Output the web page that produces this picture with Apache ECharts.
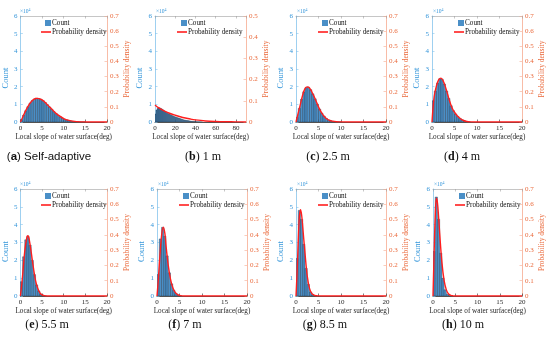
<!DOCTYPE html>
<html>
<head>
<meta charset="utf-8">
<script src="https://cdn.jsdelivr.net/npm/echarts@6/dist/echarts.min.js"></script>
<style>html,body{margin:0;padding:0;background:#fff;}#c{width:550px;height:342px;}</style>
</head>
<body>
<div id="c"></div>
<script>
// ---------- data (counts in units of 10^4, bins start at 0) ----------
const captions = ['a','b','c','d','e','f','g','h'];
const captionText = ['Self-adaptive','1 m','2.5 m','4 m','5.5 m','7 m','8.5 m','10 m'];
const xTickMax = [20, 90, 20, 20, 20, 20, 20, 20];
const xTickStep = [5, 20, 5, 5, 5, 5, 5, 5];
const densityAxisMax = [0.7, 0.5, 0.7, 0.7, 0.7, 0.7, 0.7, 0.7];
const countAxisMax = 6;

const binWidthA = 0.5;
const countsA = [0.13,0.39,0.64,0.87,1.07,1.22,1.30,1.34,1.33,1.29,1.21,1.10,0.98,0.85,0.72,0.59,0.48,0.38,0.29,0.22,0.16,0.12,0.085,0.06,0.04,0.026,0.017,0.011,0.007,0.004];
const densXA = [0,0.5,1,1.5,2,2.5,3,3.5,4,4.5,5,5.5,6,7,8,9,10,11,12,13,14,15,16,18,20];
const densYA = [0,0.03,0.062,0.09,0.115,0.134,0.148,0.155,0.156,0.153,0.146,0.135,0.121,0.092,0.063,0.04,0.023,0.012,0.006,0.0025,0.001,0.0004,0,0,0];

const binWidthB = 1;
const countsB = [0.45,0.68,0.76,0.8,0.8,0.78,0.75,0.71,0.67,0.62,0.58,0.54,0.5,0.47,0.44,0.41,0.38,0.35,0.33,0.3,0.28,0.26,0.24,0.22,0.2,0.18,0.16,0.14,0.12,0.11,0.1,0.09,0.08,0.07,0.06,0.05,0.04,0.035,0.03,0.025,0.02,0.015,0.012,0.01,0.008,0.006,0.005];
const densXB = [0,2,5,10,15,20,25,30,35,40,50,60,70,80,90];
const densYB = [0.08,0.072,0.063,0.05,0.04,0.032,0.025,0.019,0.014,0.01,0.005,0.0025,0.0012,0.0006,0.0003];

const binWidthC = 0.5;
const countsC = [0.26,0.77,1.29,1.71,1.95,1.97,1.83,1.59,1.31,1.01,0.73,0.5,0.33,0.2,0.12,0.07,0.04,0.025,0.013,0.008];
const densXC = [0,0.5,1,1.5,2,2.5,3,3.5,4,4.5,5,5.5,6,6.5,7,7.5,8,9,10,12,15,20];
const densYC = [0,0.06,0.12,0.18,0.22,0.232,0.225,0.2,0.17,0.135,0.1,0.07,0.047,0.03,0.018,0.01,0.006,0.002,0.0005,0,0,0];

const binWidthD = 0.5;
const countsD = [1.2,1.75,2.2,2.45,2.42,2.15,1.75,1.33,0.92,0.64,0.45,0.31,0.2,0.12,0.064,0.03,0.015];
const densXD = [0,0.25,0.5,1,1.5,2,2.5,3,3.5,4,4.5,5,5.5,6,6.5,7,7.5,8,8.5,10,15,20];
const densYD = [0,0.1,0.17,0.24,0.28,0.29,0.27,0.23,0.18,0.13,0.09,0.065,0.045,0.03,0.018,0.01,0.005,0.002,0.001,0,0,0];

const binWidthE = 0.5;
const countsE = [0.8,2.2,3.15,3.35,2.85,2.0,1.2,0.62,0.28,0.11,0.04,0.012];
const densXE = [0,0.25,0.5,1,1.5,1.75,2,2.5,3,3.5,4,4.5,5,5.5,6,8,10,15,20];
const densYE = [0,0.06,0.13,0.29,0.385,0.395,0.375,0.285,0.185,0.1,0.05,0.02,0.007,0.002,0,0,0,0,0];

const binWidthF = 0.5;
const countsF = [1.2,3.2,3.85,3.35,2.25,1.3,0.68,0.32,0.14,0.05,0.015];
const densXF = [0,0.25,0.5,1,1.4,1.75,2,2.5,3,3.5,4,4.5,5,5.5,6,8,10,15,20];
const densYF = [0,0.09,0.2,0.39,0.45,0.41,0.33,0.2,0.11,0.055,0.025,0.01,0.004,0.001,0,0,0,0,0];

const binWidthG = 0.5;
const countsG = [2.1,4.8,4.3,2.9,1.55,0.65,0.22,0.07,0.02];
const densXG = [0,0.25,0.5,0.75,1,1.25,1.5,2,2.5,3,3.5,4,4.5,5,6,8,10,15,20];
const densYG = [0,0.16,0.36,0.52,0.565,0.53,0.45,0.28,0.13,0.05,0.017,0.005,0.0015,0.0005,0,0,0,0,0];

const binWidthH = 0.5;
const countsH = [2.5,5.55,4.3,2.4,1.0,0.35,0.1,0.03];
const densXH = [0,0.25,0.5,0.75,1,1.25,1.5,2,2.5,3,3.5,4,4.5,5,6,8,10,15,20];
const densYH = [0,0.28,0.52,0.64,0.61,0.52,0.41,0.22,0.1,0.04,0.013,0.004,0.001,0,0,0,0,0,0];

const allCounts = [countsA,countsB,countsC,countsD,countsE,countsF,countsG,countsH];
const allBinWidths = [binWidthA,binWidthB,binWidthC,binWidthD,binWidthE,binWidthF,binWidthG,binWidthH];
const allDensX = [densXA,densXB,densXC,densXD,densXE,densXF,densXG,densXH];
const allDensY = [densYA,densYB,densYC,densYD,densYE,densYF,densYG,densYH];

// ---------- layout ----------
const grids = [
  {left:19, top:16, width:88, height:106},
  {left:155, top:16, width:91, height:106},
  {left:296, top:16, width:90, height:106},
  {left:432, top:16, width:90, height:106},
  {left:19, top:189, width:88, height:107},
  {left:157, top:189, width:90, height:107},
  {left:296, top:189, width:90, height:107},
  {left:433, top:189, width:89, height:107}
];
const captionPos = [[49,157],[203,157],[328,157],[462,157],[47,325],[185,325],[325,325],[463,325]];

const SERIF = 'Liberation Serif';
const BLUE_LINE = '#86c4ec', BLUE_TXT = '#3596da';
const RED_LINE = '#f6ab90', RED_TXT = '#ea6a3c';
const BAR_FILL = '#4a8fc7', BAR_EDGE = '#1b2a3a';
const CURVE = '#ff1e1e';

const option = {
  animation: false,
  backgroundColor: '#fff',
  grid: grids.map(g => Object.assign({containLabel:false}, g)),
  xAxis: [], yAxis: [], series: [], legend: [], graphic: []
};

grids.forEach((g, i) => {
  option.xAxis.push({
    gridIndex:i, type:'value', min:0, max:xTickMax[i], interval:xTickStep[i], position:'bottom',
    axisLine:{show:true, onZero:false, lineStyle:{color:'#262626', width:0.8}},
    axisTick:{show:true, inside:true, length:2.5, lineStyle:{color:'#262626', width:0.6}},
    axisLabel:{fontSize:7, color:'#262626', margin:3, fontFamily:SERIF, showMaxLabel: xTickMax[i] % (xTickStep[i]*2) === 0 || xTickMax[i] === 20},
    splitLine:{show:false},
    name:'Local slope of water surface(deg)', nameLocation:'middle', nameGap:12,
    nameTextStyle:{fontSize:7.2, color:'#262626', fontFamily:SERIF}
  });
  option.xAxis.push({
    gridIndex:i, type:'value', min:0, max:xTickMax[i], interval:xTickStep[i], position:'top',
    axisLine:{show:true, onZero:false, lineStyle:{color:'#a0a0a0', width:0.6}},
    axisTick:{show:true, inside:true, length:2.5, lineStyle:{color:'#a0a0a0', width:0.6}},
    axisLabel:{show:false}, splitLine:{show:false}
  });
  option.yAxis.push({
    gridIndex:i, type:'value', min:0, max:countAxisMax, interval:1, position:'left',
    axisLine:{show:true, onZero:false, lineStyle:{color:BLUE_LINE, width:0.8}},
    axisTick:{show:true, inside:true, length:2.5, lineStyle:{color:BLUE_LINE, width:0.6}},
    axisLabel:{fontSize:7, color:BLUE_TXT, margin:3, fontFamily:SERIF},
    splitLine:{show:false},
    name:'Count', nameLocation:'middle', nameGap:7,
    nameTextStyle:{fontSize:8.5, color:BLUE_TXT, fontFamily:SERIF, padding:[0,18,0,0]}
  });
  option.yAxis.push({
    gridIndex:i, type:'value', min:0, max:densityAxisMax[i], interval:0.1, position:'right',
    axisLine:{show:true, onZero:false, lineStyle:{color:RED_LINE, width:0.8}},
    axisTick:{show:true, inside:true, length:2.5, lineStyle:{color:RED_LINE, width:0.6}},
    axisLabel:{fontSize:7, color:RED_TXT, margin:3, fontFamily:SERIF},
    splitLine:{show:false},
    name:'Probability density', nameLocation:'middle', nameGap:14,
    nameTextStyle:{fontSize:7.5, color:RED_TXT, fontFamily:SERIF}
  });

  const bw = allBinWidths[i];
  const bars = allCounts[i].map((c, k) => [k*bw, (k+1)*bw, c]);
  option.series.push({
    type:'custom', name:'Count', xAxisIndex:2*i, yAxisIndex:2*i, clip:true,
    itemStyle:{color:BAR_FILL},
    encode:{x:[0,1], y:2},
    data: bars,
    renderItem: function(params, api){
      const p0 = api.coord([api.value(0), api.value(2)]);
      const p1 = api.coord([api.value(1), 0]);
      return {type:'rect', shape:{x:p0[0], y:p0[1], width:p1[0]-p0[0], height:p1[1]-p0[1]},
        style:{fill:BAR_FILL, stroke:BAR_EDGE, lineWidth:0.35}};
    }
  });
  option.series.push({
    type:'line', name:'Probability density', xAxisIndex:2*i, yAxisIndex:2*i+1,
    smooth:0.35, symbol:'none', clip:true,
    lineStyle:{color:CURVE, width:1.4}, itemStyle:{color:CURVE},
    data: allDensX[i].map((x, k) => [x, allDensY[i][k]])
  });
  option.legend.push({
    orient:'vertical', left:g.left+26, top:g.top+3.5, itemWidth:6, itemHeight:6, itemGap:0,
    selectedMode:false, padding:0, icon:'rect',
    textStyle:{fontSize:7.2, color:'#111', fontFamily:SERIF, padding:[0,0,0,-4]},
    data:['Count']
  });
  option.legend.push({
    orient:'vertical', left:g.left+22, top:g.top+12.5, itemWidth:10, itemHeight:1.6, itemGap:0,
    selectedMode:false, padding:0, icon:'rect',
    textStyle:{fontSize:7.2, color:'#111', fontFamily:SERIF, padding:[0,0,0,-4]},
    data:['Probability density']
  });
  option.graphic.push({
    type:'text', x:g.left+1, y:g.top-1,
    style:{text:'×10{s|4}', fill:BLUE_TXT, font:'5.5px "Liberation Serif"', align:'left', verticalAlign:'bottom',
      rich:{s:{fontSize:4, fill:BLUE_TXT, fontFamily:SERIF, verticalAlign:'top', padding:[0,0,3,0]}}}
  });
  const isA = i === 0;
  const fam = isA ? 'Liberation Sans' : SERIF;
  const fs = isA ? 11.5 : 12;
  option.graphic.push({
    type:'text', x:captionPos[i][0], y:captionPos[i][1],
    style:{text:'({b|' + captions[i] + '}) ' + captionText[i], fill:'#111',
      font: fs + 'px "' + fam + '"', align:'center', verticalAlign:'middle',
      rich:{b:{fontWeight:'bold', fontSize:fs, fontFamily:fam, fill:'#111'}}}
  });
});

const chart = echarts.init(document.getElementById('c'), null, {renderer:'canvas'});
chart.setOption(option);
</script>
</body>
</html>
